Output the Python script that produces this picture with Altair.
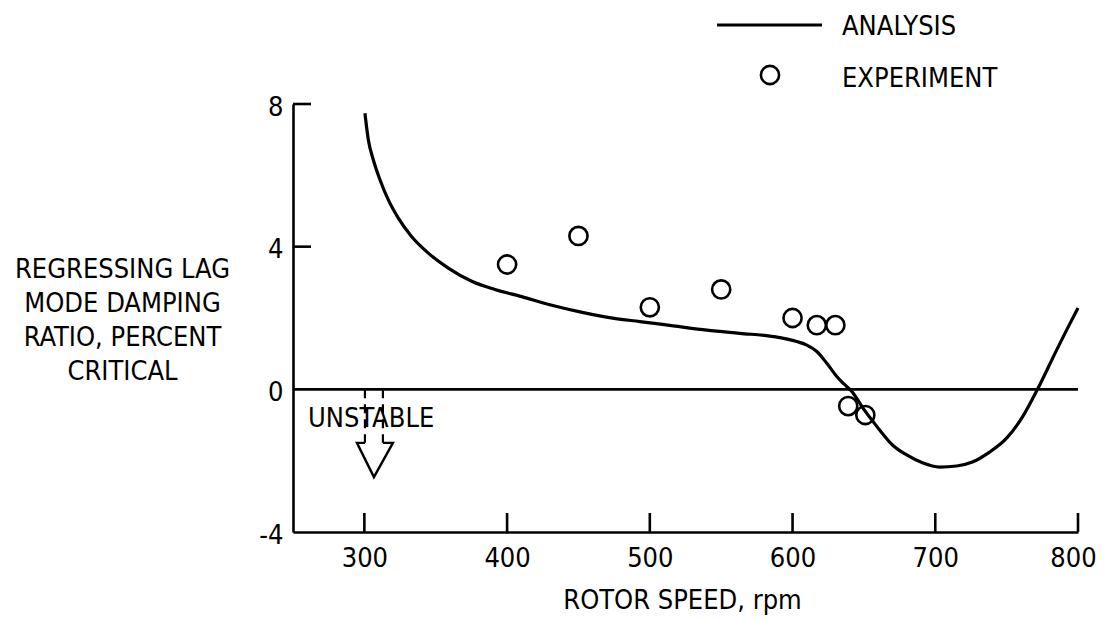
import altair as alt
import pandas as pd

FONT = "DejaVu Sans Condensed, Liberation Sans Narrow, sans-serif"
FS = 27

# ---- data ----
analysis_rpm = [300.4, 302.8, 306.3, 311, 316.8, 323.8, 333.2, 344.8, 358.8, 375.2, 391.5, 410.2,
                430, 451, 475, 493, 516.5, 540, 563, 586.5, 603, 610, 617, 624, 631, 636, 642,
                647, 651, 656, 661, 670, 680, 691, 703, 715, 726, 738, 750, 761, 771.6, 785,
                792, 800]
analysis_damping = [7.74, 6.99, 6.43, 5.87, 5.31, 4.80, 4.28, 3.82, 3.40, 3.03, 2.80, 2.60,
                    2.37, 2.17, 1.99, 1.90, 1.78, 1.66, 1.57, 1.48, 1.34, 1.24, 1.06, 0.73, 0.36,
                    0.15, -0.08, -0.38, -0.62, -0.88, -1.14, -1.56, -1.84, -2.06, -2.18, -2.15,
                    -2.04, -1.76, -1.37, -0.78, 0.0, 1.10, 1.66, 2.28]
experiment_rpm = [400, 450, 500, 550, 600, 617, 630, 639, 651]
experiment_damping = [3.5, 4.3, 2.3, 2.8, 2.0, 1.8, 1.8, -0.47, -0.72]

x_tick_values = [300, 400, 500, 600, 700, 800]
y_tick_values = [-4, 0, 4, 8]
y_inner_ticks = [8, 4]
y_title_lines = ["REGRESSING LAG", "MODE DAMPING", "RATIO, PERCENT", "CRITICAL"]
x_title = "ROTOR SPEED, rpm"
legend_labels = ["ANALYSIS", "EXPERIMENT"]
unstable_label = "UNSTABLE"

# "UNSTABLE" arrow outline (rpm, damping)
arrow_shaft_rpm = [300.4, 300.4, 313, 313]
arrow_shaft_damping = [0, -1.5, 0, -1.5]
arrow_shaft_side = ["a", "a", "b", "b"]
arrow_head_rpm = [300.4, 294.8, 306.7, 320, 313]
arrow_head_damping = [-1.5, -1.5, -2.46, -1.5, -1.5]

# ---- encodings ----
X_ENC = alt.X(
    "rpm:Q",
    scale=alt.Scale(domain=[250, 800], nice=False, zero=False),
    axis=alt.Axis(
        values=x_tick_values, ticks=False, tickSize=0, grid=False,
        domain=True, domainColor="black", domainWidth=2.6,
        labelFont=FONT, labelFontSize=FS, labelColor="black", labelPadding=13,
        labelFlush=False, labelOverlap=False,
        labelOffset={"condition": {"test": "datum.value == 800", "value": -5}, "value": 0},
        title=x_title, titleFont=FONT, titleFontSize=FS, titleFontWeight="normal",
        titleColor="black", titleX=389, titleY=76, titleBaseline="alphabetic",
        titleAlign="center",
    ),
)
Y_ENC = alt.Y(
    "damping:Q",
    scale=alt.Scale(domain=[-4, 8], nice=False, zero=False),
    axis=alt.Axis(
        values=y_tick_values, ticks=False, tickSize=0, grid=False,
        domain=True, domainColor="black", domainWidth=2.6,
        labelFont=FONT, labelFontSize=FS, labelColor="black", labelPadding=10,
        labelOffset=3, labelFlush=False, labelOverlap=False,
        labelExpr="datum.value + ''",
        title=y_title_lines, titleFont=FONT, titleFontSize=FS, titleFontWeight="normal",
        titleColor="black", titleAngle=0, titleX=-171, titleY=173,
        titleAlign="center", titleBaseline="alphabetic", titleLineHeight=34.3,
    ),
)

analysis_df = pd.DataFrame({"rpm": analysis_rpm, "damping": analysis_damping})
experiment_df = pd.DataFrame({"rpm": experiment_rpm, "damping": experiment_damping})
xticks_df = pd.DataFrame({"rpm": x_tick_values})
yticks_df = pd.DataFrame({"damping": y_inner_ticks})
shaft_df = pd.DataFrame({"rpm": arrow_shaft_rpm, "damping": arrow_shaft_damping, "side": arrow_shaft_side})
head_df = pd.DataFrame({"rpm": arrow_head_rpm, "damping": arrow_head_damping,
                        "order": list(range(len(arrow_head_rpm)))})
one = pd.DataFrame({"k": [0]})

curve = alt.Chart(analysis_df).mark_line(
    color="black", strokeWidth=3.2, interpolate="monotone"
).encode(x=X_ENC, y=Y_ENC)

points = alt.Chart(experiment_df).mark_point(
    shape="circle", filled=False, color="black", size=330, strokeWidth=2.6, opacity=1
).encode(x=X_ENC, y=Y_ENC)

zero_line = alt.Chart(one).mark_rule(color="black", strokeWidth=2.8).encode(
    x=alt.value(0), x2=alt.value(785),
    y=alt.datum(0, type="quantitative", scale=alt.Scale(domain=[-4, 8], nice=False, zero=False))
)

xticks = alt.Chart(xticks_df).mark_rule(color="black", strokeWidth=2.6).encode(
    x=X_ENC, y=alt.value(428), y2=alt.value(409)
)
yticks = alt.Chart(yticks_df).mark_rule(color="black", strokeWidth=2.6).encode(
    y=Y_ENC, x=alt.value(0), x2=alt.value(18)
)

shaft = alt.Chart(shaft_df).mark_line(color="black", strokeWidth=2.2, strokeDash=[9, 6]).encode(
    x=X_ENC, y=Y_ENC, detail="side:N"
)
head = alt.Chart(head_df).mark_line(color="black", strokeWidth=2.4).encode(
    x=X_ENC, y=Y_ENC, order="order:Q"
)
unstable = alt.Chart(one).mark_text(
    font=FONT, fontSize=FS, color="black", align="left", baseline="alphabetic"
).encode(x=alt.value(15), y=alt.value(323), text=alt.value(unstable_label))

leg_line = alt.Chart(one).mark_rule(color="black", strokeWidth=3).encode(
    x=alt.value(424), x2=alt.value(529), y=alt.value(-79)
)
leg_point = alt.Chart(one).mark_point(
    shape="circle", filled=False, color="black", size=330, strokeWidth=2.6, opacity=1
).encode(x=alt.value(477), y=alt.value(-29))
leg_text1 = alt.Chart(one).mark_text(
    font=FONT, fontSize=FS, color="black", align="left", baseline="alphabetic"
).encode(x=alt.value(549), y=alt.value(-69), text=alt.value(legend_labels[0]))
leg_text2 = alt.Chart(one).mark_text(
    font=FONT, fontSize=FS, color="black", align="left", baseline="alphabetic"
).encode(x=alt.value(549), y=alt.value(-17), text=alt.value(legend_labels[1]))

chart = alt.layer(
    curve, zero_line, xticks, yticks, shaft, head, unstable, points,
    leg_line, leg_point, leg_text1, leg_text2
).properties(
    width=785, height=428,
    autosize=alt.AutoSizeParams(type="none"),
    padding={"left": 285, "top": 96, "right": 20, "bottom": 88},
    background="white",
).configure_view(strokeWidth=0)

chart.save("out.html", embed_options={"renderer": "svg", "actions": False})
